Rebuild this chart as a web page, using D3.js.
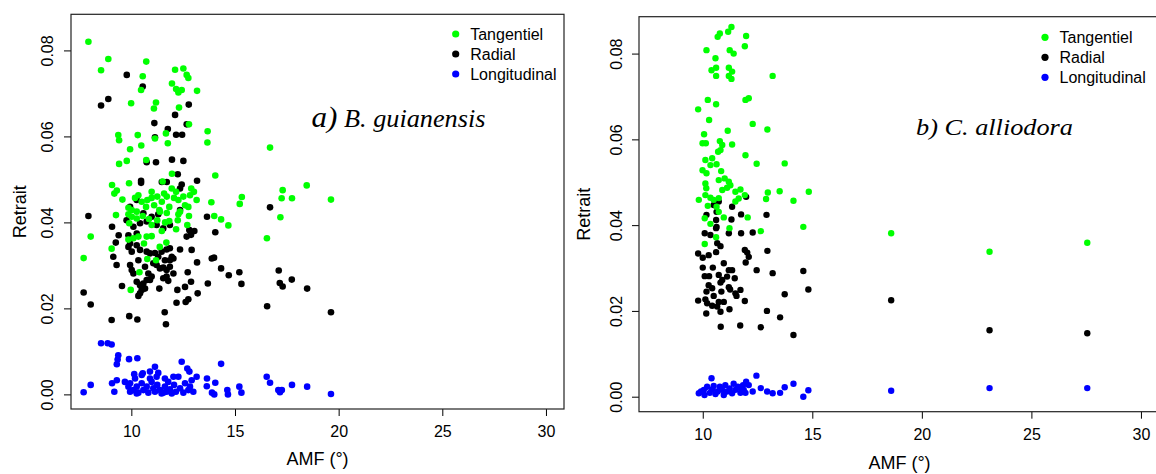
<!DOCTYPE html>
<html>
<head>
<meta charset="utf-8">
<script src="https://cdn.jsdelivr.net/npm/d3@7"></script>
<style>
html,body{margin:0;padding:0;background:#fff;}
svg{display:block;}
text{font-family:"Liberation Sans",Arial,sans-serif;}
</style>
</head>
<body>
<svg id="chart" width="1156" height="474"></svg>
<script>
// ---------- data ----------
const xTicks = [10, 15, 20, 25, 30];
const yTicks = [0, 0.02, 0.04, 0.06, 0.08];
const yTickLabels = ["0.00", "0.02", "0.04", "0.06", "0.08"];
const seriesNames = ["Tangentiel", "Radial", "Longitudinal"];
const seriesColors = ["#00ff00", "#000000", "#0000ff"];
const xTitle = "AMF (°)";
const yTitle = "Retrait";

// panel a) B. guianensis  [AMF, retrait]
const aTangentiel = [
[7.93,0.0820],[8.89,0.0780],[8.54,0.0754],[10.72,0.0774],[10.55,0.0740],[10.47,0.0708],[9.99,0.0677],[12.11,0.0755],[12.51,0.0758],[12.67,0.0743],[12.75,0.0736],[11.96,0.0723],[12.16,0.0710],[12.27,0.0702],[12.43,0.0708],[13.17,0.0706],[11.19,0.0679],[11.09,0.0665],[12.30,0.0667],[12.78,0.0628],[9.37,0.0603],[9.41,0.0591],[10.31,0.0603],[10.48,0.0579],[9.94,0.0570],[11.67,0.0607],[11.76,0.0584],[11.14,0.0595],[13.68,0.0612],[13.67,0.0586],[16.69,0.0574],[9.41,0.0536],[9.78,0.0543],[10.72,0.0545],[11.96,0.0513],[14.05,0.0509],[9.07,0.0487],[9.30,0.0474],[9.18,0.0467],[9.89,0.0491],[9.57,0.0453],[11.51,0.0495],[17.30,0.0475],[17.25,0.0456],[17.75,0.0456],[15.33,0.0459],[15.23,0.0443],[13.86,0.0447],[12.89,0.0479],[13.02,0.0471],[12.83,0.0463],
[9.86,0.0434],[10.02,0.0429],[10.26,0.0425],[10.18,0.0457],[10.34,0.0463],[10.50,0.0448],[10.71,0.0436],[10.77,0.0452],[10.98,0.0471],[10.98,0.0457],[11.10,0.0440],[11.25,0.0460],[11.35,0.0429],[11.47,0.0448],[11.58,0.0467],[11.71,0.0460],[11.83,0.0436],[11.95,0.0479],[12.06,0.0457],[12.16,0.0471],[12.27,0.0452],[12.35,0.0425],[12.59,0.0440],[12.75,0.0436],[12.51,0.0460],[13.15,0.0452],
[9.26,0.0417],[9.86,0.0419],[10.02,0.0413],[9.90,0.0398],[10.26,0.0409],[10.55,0.0415],[10.85,0.0408],[10.98,0.0394],[11.25,0.0405],[11.38,0.0425],[11.63,0.0400],[11.83,0.0403],[11.71,0.0422],[12.24,0.0405],[12.70,0.0394],[12.78,0.0415],[12.27,0.0419],[12.16,0.0384],[11.47,0.0380],[9.86,0.0360],[10.10,0.0363],[10.34,0.0367],[10.61,0.0351],[10.74,0.0367],[10.98,0.0368],
[8.04,0.0367],[7.70,0.0317],[9.05,0.0339],[10.39,0.0284],[9.97,0.0243],[10.77,0.0315],[11.19,0.0312],[11.37,0.0343],[11.69,0.0353],[16.54,0.0363],[17.19,0.0412],[14.33,0.0407],[14.68,0.0393],[14.0,0.0415],[19.63,0.0453],[18.46,0.0486]
];
const aRadial = [
[9.78,0.0743],[10.55,0.0716],[8.54,0.0672],[8.89,0.0687],[12.77,0.0674],[12.11,0.0650],[11.11,0.0631],[11.76,0.0617],[12.16,0.0604],[12.45,0.0604],[12.67,0.0628],[11.14,0.0598],[10.74,0.0540],[11.19,0.0540],[11.96,0.0546],[12.51,0.0543],[12.24,0.0512],[10.47,0.0497],[10.47,0.0492],[11.47,0.0494],[11.71,0.0494],[12.43,0.0488],[12.35,0.0479],[13.17,0.0497],[16.69,0.0435],[7.93,0.0415],[13.65,0.0413],[9.07,0.0390],[9.39,0.0370],[9.25,0.0353],[14.05,0.0377],[12.80,0.0382],[12.88,0.0371],[13.04,0.0380],[12.67,0.0367],[12.35,0.0337],[12.91,0.0336],[13.17,0.0307],[13.88,0.0316],[13.99,0.0318],[14.33,0.0293],[14.70,0.0277],[15.21,0.0284],[15.31,0.0257],[17.11,0.0288],[17.16,0.0259],[17.30,0.0251],[17.74,0.0267],[16.55,0.0205],[7.70,0.0237],[8.04,0.0209],[9.05,0.0173],[9.90,0.0182],[10.29,0.0174],[11.61,0.0191],[11.67,0.0163],[9.55,0.0252],[10.34,0.0229],[10.42,0.0235],[11.35,0.0246],[12.22,0.0243],[12.59,0.0250],[12.75,0.0221],[12.62,0.0215],[12.18,0.0213],[13.2,0.0235],[13.69,0.0258],[12.88,0.0262],[12.72,0.0284],[19.63,0.0191],[18.48,0.0246],
[9.77,0.0405],[10.10,0.0390],[10.42,0.0398],[10.74,0.0402],[10.98,0.0413],[11.22,0.0394],[11.54,0.0386],[11.86,0.0394],[9.86,0.0343],[10.02,0.0332],[9.94,0.0351],[10.26,0.0347],[10.42,0.0336],[10.74,0.0332],[10.90,0.0328],[11.14,0.0329],[11.30,0.0320],[11.46,0.0332],[11.70,0.0337],[11.86,0.0340],[11.95,0.0320],[12.03,0.0316],[9.13,0.0320],[9.29,0.0301],[9.94,0.0301],[10.02,0.0289],[10.10,0.0281],[10.34,0.0312],[10.66,0.0297],[10.82,0.0281],[10.98,0.0274],[11.22,0.0301],[11.38,0.0293],[11.54,0.0295],[11.70,0.0289],[11.86,0.0297],[12.03,0.0281],[11.54,0.0270],[11.70,0.0274],[11.78,0.0264],[10.26,0.0262],[10.42,0.0254],[10.58,0.0258],[10.50,0.0243],[10.74,0.0266],[10.90,0.0266],[10.66,0.0246],[11.06,0.0305],[11.62,0.0312],[11.86,0.0312],[9.86,0.0370],[10.26,0.0374],
[10.58,0.0421],[11.30,0.0419],[12.35,0.0429],[10.26,0.0452],[9.94,0.0436]
];
const aLongitudinal = [
[8.54,0.0119],[8.86,0.0119],[9.05,0.0116],[9.37,0.0091],[9.34,0.0081],[9.30,0.0070],[9.89,0.0082],[10.29,0.0084],[12.43,0.0076],[14.33,0.0071],[12.70,0.0060],[12.80,0.0053],[11.14,0.0064],[11.30,0.0050],[10.90,0.0053],[10.55,0.0049],[10.14,0.0047],[7.70,0.0005],[8.04,0.0022],[9.07,0.0026],[9.18,0.0006],[9.30,0.0033],[13.15,0.0041],[13.65,0.0037],[14.05,0.0027],[13.64,0.0019],[13.89,0.0004],[14.0,0.0000],[14.63,0.0010],[14.66,0.0000],[15.21,0.0018],[15.31,0.0004],[16.53,0.0041],[16.69,0.0027],[17.09,0.0010],[17.26,0.0010],[17.17,0.0005],[17.75,0.0022],[18.48,0.0018],[19.63,0.0001],
[9.69,0.0029],[9.86,0.0018],[9.94,0.0006],[10.10,0.0010],[10.26,0.0018],[10.34,0.0004],[10.50,0.0026],[10.58,0.0010],[10.74,0.0018],[10.82,0.0004],[10.98,0.0029],[11.06,0.0014],[11.14,0.0006],[11.25,0.0022],[11.38,0.0010],[11.46,0.0002],[11.62,0.0018],[11.70,0.0006],[11.78,0.0029],[11.86,0.0012],[11.95,0.0002],[12.06,0.0022],[12.15,0.0006],[12.27,0.0041],[12.35,0.0014],[12.51,0.0004],[12.59,0.0026],[12.75,0.0010],[12.83,0.0018],[12.99,0.0006],[12.91,0.0033],[10.90,0.0037],[10.50,0.0045],[10.18,0.0037],[9.94,0.0026],[11.22,0.0041],[11.62,0.0037],[12.03,0.0041],[10.26,0.0002],[11.54,0.0004]
];

// panel b) C. alliodora  [AMF, retrait]
const bTangentiel = [
[11.31,0.0862],[11.16,0.0851],[10.78,0.0847],[10.68,0.0839],[11.98,0.0841],[11.92,0.0817],[10.17,0.0808],[11.23,0.0808],[11.41,0.0800],[10.58,0.0789],[10.61,0.0767],[10.40,0.0761],[10.61,0.0748],[11.19,0.0767],[11.34,0.0758],[11.19,0.0748],[11.31,0.0741],[13.19,0.0748],[10.23,0.0692],[10.61,0.0682],[9.79,0.0670],[11.95,0.0692],[12.10,0.0696],[10.29,0.0645],[12.28,0.0636],[12.95,0.0623],[11.14,0.0620],[10.06,0.0612],[9.99,0.0591],[10.14,0.0591],[10.78,0.0596],[10.89,0.0587],[11.34,0.0588],[10.70,0.0571],[10.81,0.0575],[11.95,0.0563],[10.12,0.0552],[10.43,0.0556],[10.35,0.0540],[10.63,0.0542],[12.46,0.0543],[13.74,0.0544],[9.99,0.0528],[10.17,0.0521],[10.84,0.0526],[11.0,0.0509],[10.73,0.0505],[11.19,0.0501],[11.26,0.0493],[10.12,0.0497],[10.16,0.0486],[10.12,0.0470],[10.89,0.0482],[11.49,0.0478],[11.72,0.0483],[11.11,0.0487],[9.82,0.0459],[10.35,0.0464],[10.50,0.0459],[10.73,0.0463],[11.92,0.0470],[12.97,0.0476],[13.51,0.0479],[14.84,0.0478],[12.89,0.0461],[14.14,0.0457],[10.23,0.0445],[10.63,0.0443],[10.73,0.0431],[11.64,0.0462],[11.49,0.0455],
[10.09,0.0416],[10.35,0.0403],[10.61,0.0372],[10.09,0.0356],[10.96,0.0418],[11.22,0.0393],[12.05,0.0418],[12.65,0.0386],[14.59,0.0396],
[18.60,0.0381],[23.09,0.0338],[27.55,0.0359]
];
const bRadial = [
[11.98,0.0466],[11.34,0.0443],[12.91,0.0424],[11.75,0.0425],[11.31,0.0413],[10.17,0.0424],[10.61,0.0412],[10.61,0.0393],[10.50,0.0447],[10.73,0.0455],[10.63,0.0431],
[10.09,0.0381],[10.35,0.0377],[10.63,0.0396],[11.19,0.0381],[11.75,0.0381],[12.28,0.0383],[10.66,0.0358],[10.81,0.0351],[10.61,0.0337],[9.79,0.0334],[10.0,0.0324],[10.27,0.0330],[11.92,0.0342],[12.03,0.0336],[12.10,0.0326],[11.96,0.0313],[12.95,0.0340],[10.96,0.0311],[11.19,0.0295],[11.34,0.0295],[10.0,0.0301],[10.46,0.0301],[12.46,0.0295],[13.19,0.0288],[14.59,0.0293],[10.09,0.0281],[10.29,0.0281],[10.73,0.0284],[10.89,0.0272],[11.11,0.0280],[11.46,0.0276],[10.27,0.0260],[10.81,0.0266],[11.19,0.0255],[11.72,0.0249],[10.17,0.0245],[10.43,0.0253],[10.85,0.0245],[11.25,0.0250],[10.50,0.0235],[11.49,0.0241],[11.54,0.0235],[9.79,0.0224],[10.12,0.0227],[10.20,0.0218],[10.43,0.0212],[10.73,0.0221],[10.96,0.0221],[10.66,0.0210],[11.92,0.0223],[13.74,0.0239],[14.82,0.0250],[10.16,0.0194],[10.81,0.0198],[11.22,0.0204],[12.93,0.0200],[13.53,0.0185],[10.82,0.0163],[11.71,0.0166],[12.65,0.0162],[14.14,0.0144],
[18.60,0.0225],[23.09,0.0155],[27.55,0.0148]
];
const bLongitudinal = [
[10.40,0.0043],[12.45,0.0049],[14.14,0.0030],[13.74,0.0022],[12.65,0.0020],[12.94,0.0012],[13.19,0.0008],[13.53,0.0009],[14.59,0.0000],[14.82,0.0015],[11.98,0.0035],[12.10,0.0027],[12.28,0.0012],[11.95,0.0009],[11.72,0.0020],
[9.82,0.0008],[9.92,0.0012],[10.05,0.0016],[10.08,0.0004],[10.20,0.0023],[10.32,0.0009],[10.43,0.0017],[10.50,0.0025],[10.58,0.0006],[10.68,0.0012],[10.78,0.0023],[10.88,0.0016],[10.96,0.0004],[11.03,0.0027],[11.11,0.0012],[11.23,0.0019],[11.34,0.0008],[11.41,0.0030],[11.49,0.0016],[11.60,0.0023],[11.72,0.0009],[11.84,0.0027],[11.87,0.0016],
[18.60,0.0014],[23.09,0.0020],[27.55,0.0020]
];

// ---------- drawing ----------
const svg = d3.select("#chart");
const SANS = "'Liberation Sans', Arial, sans-serif";
const SERIF = "'Liberation Serif', 'Times New Roman', serif";

function panel(opt) {
  const x = d3.scaleLinear().domain([7.09, 30.87]).range([opt.left, opt.right]);
  const y = d3.scaleLinear().domain(opt.ydom).range([opt.bottom, opt.top]);
  const g = svg.append("g");

  // x axis
  const xa = g.append("g").attr("transform", `translate(0,${opt.bottom})`)
    .call(d3.axisBottom(x).tickValues(xTicks).tickFormat(d3.format("d")).tickSize(7).tickSizeOuter(0).tickPadding(10));
  xa.select(".domain").remove();
  xa.selectAll("line").attr("stroke", "#000");
  xa.selectAll("text").attr("font-size", 16).attr("fill", "#000").style("font-family", SANS);

  // y axis
  const ya = g.append("g").attr("transform", `translate(${opt.left},0)`)
    .call(d3.axisLeft(y).tickValues(yTicks).tickFormat((d, i) => yTickLabels[i]).tickSize(7).tickSizeOuter(0));
  ya.select(".domain").remove();
  ya.selectAll("line").attr("stroke", "#000");
  ya.selectAll("text").attr("font-size", 16).attr("fill", "#000").style("font-family", SANS)
    .attr("transform", "rotate(-90)").attr("x", 0).attr("y", -opt.ylabOff).attr("dy", 0)
    .attr("text-anchor", "middle");

  // box
  g.append("rect").attr("x", opt.left).attr("y", opt.top)
    .attr("width", opt.right - opt.left).attr("height", opt.bottom - opt.top)
    .attr("fill", "none").attr("stroke", "#222").attr("stroke-width", 1.2);

  // points
  const series = [opt.data[1], opt.data[0], opt.data[2]];
  const cols = [seriesColors[1], seriesColors[0], seriesColors[2]];
  series.forEach((s, i) => {
    g.append("g").selectAll("circle").data(s).join("circle")
      .attr("cx", d => x(d[0])).attr("cy", d => y(d[1]))
      .attr("r", opt.r).attr("fill", cols[i]);
  });

  // axis titles
  g.append("text").attr("x", (opt.left + opt.right) / 2).attr("y", opt.xtitleY)
    .attr("text-anchor", "middle").attr("font-size", 18).text(xTitle);
  g.append("text").attr("transform", `translate(${opt.ytitleX},${(opt.top + opt.bottom) / 2}) rotate(-90)`)
    .attr("text-anchor", "middle").attr("font-size", 18).text(yTitle);

  // legend
  seriesNames.forEach((n, i) => {
    g.append("circle").attr("cx", opt.legX).attr("cy", opt.legY + i * 20).attr("r", 3.6).attr("fill", seriesColors[i]);
    g.append("text").attr("x", opt.legX + 14.5).attr("y", opt.legY + i * 20 + 6)
      .attr("font-size", 16).text(n);
  });

  // annotation
  const t = g.append("text").attr("x", opt.annX).attr("y", opt.annY)
    .style("font-family", SERIF).style("font-style", "italic")
    .attr("font-size", opt.annSize)
    .attr("textLength", opt.annLen).attr("lengthAdjust", "spacingAndGlyphs");
  t.append("tspan").attr("font-size", opt.annLeadSize).text(opt.annLead);
  t.append("tspan").text(opt.annRest);
}

panel({
  left: 71, right: 564, top: 14.3, bottom: 409, ydom: [-0.0034, 0.0884],
  data: [aTangentiel, aRadial, aLongitudinal], r: 3.3, ylabOff: 17.7,
  xtitleY: 465, ytitleX: 25.5, legX: 455.7, legY: 34,
  annX: 311.5, annY: 127, annSize: 24.5, annLeadSize: 29, annLead: "a)", annRest: " B. guianensis", annLen: 174
});
panel({
  left: 639, right: 1160, top: 16.7, bottom: 411.7, ydom: [-0.0035, 0.0886],
  data: [bTangentiel, bRadial, bLongitudinal], r: 3.2, ylabOff: 17.3,
  xtitleY: 469, ytitleX: 590, legX: 1045, legY: 37.3,
  annX: 916, annY: 135, annSize: 24, annLeadSize: 24, annLead: "b)", annRest: " C. alliodora", annLen: 157
});
</script>
</body>
</html>
